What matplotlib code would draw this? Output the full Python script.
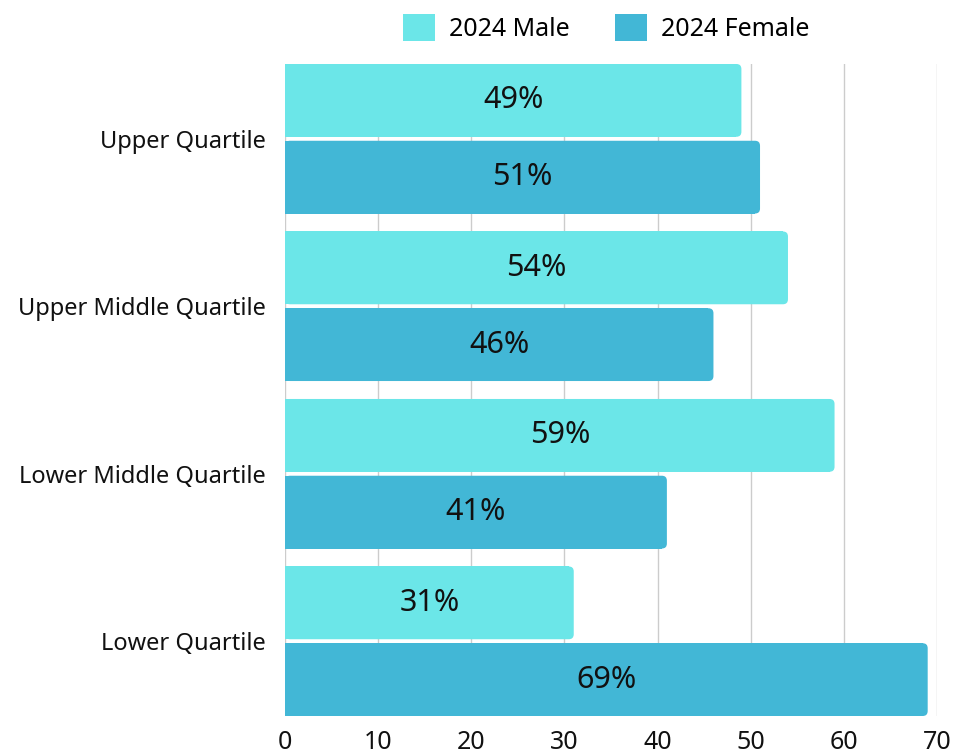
import matplotlib
matplotlib.use("Agg")
import matplotlib.pyplot as plt
from matplotlib.patches import FancyBboxPatch, Rectangle, Patch
import numpy as np

categories = ["Upper Quartile", "Upper Middle Quartile", "Lower Middle Quartile", "Lower Quartile"]
male = [49, 54, 59, 31]
female = [51, 46, 41, 69]
series_names = ["2024 Male", "2024 Female"]
xticks = [0, 10, 20, 30, 40, 50, 60, 70]

c_male = "#6be6e8"
c_female = "#42b7d6"

plt.rcParams['font.family'] = ['Noto Sans', 'DejaVu Sans']

W, H = 955, 753
fig = plt.figure(figsize=(W / 100, H / 100), dpi=100)
ax = fig.add_axes([285 / W, 1 - 716 / H, (937 - 285) / W, (716 - 64) / H])

n = len(categories)
centers = np.arange(n)[::-1].astype(float)
bh = 73 / 168
off = 77 / 2 / 168
ax.set_xlim(0, 70)
ax.set_ylim(-0.4464, n - 1 + 0.4464)

bars_m = ax.barh(centers + off, male, height=bh, color=c_male, zorder=2)
bars_f = ax.barh(centers - off, female, height=bh, color=c_female, zorder=2)

px_x = (937 - 285) / 70.0
px_y = 168.0
r_px = 5
for bars, col in ((bars_m, c_male), (bars_f, c_female)):
    for b in bars:
        x0, y0, w, h = b.get_x(), b.get_y(), b.get_width(), b.get_height()
        b.set_visible(False)
        rx = r_px / px_x
        fb = FancyBboxPatch((x0, y0), w, h, boxstyle=f"round,pad=0,rounding_size={rx}",
                            mutation_aspect=px_x / px_y, facecolor=col, edgecolor='none',
                            linewidth=0, zorder=2)
        ax.add_patch(fb)
        ax.add_patch(Rectangle((x0, y0), w - rx, h, facecolor=col, edgecolor='none',
                               linewidth=0, zorder=2))
        ax.text(x0 + w / 2, y0 + h / 2, f"{w:.0f}%", ha='center', va='center',
                fontsize=22, color='#111111', zorder=3)

ax.set_yticks(centers)
ax.set_yticklabels(categories, fontsize=17, color='#111111')
ax.set_xticks(xticks)
ax.set_xticklabels([str(t) for t in xticks], fontsize=18, color='#111111')
ax.tick_params(axis='y', length=0, pad=14)
ax.tick_params(axis='x', length=0, pad=10)
for s in ax.spines.values():
    s.set_visible(False)
ax.grid(axis='x', color='#cccccc', linewidth=1, zorder=0)
ax.set_axisbelow(True)

handles = [Patch(facecolor=c_male, edgecolor='none'), Patch(facecolor=c_female, edgecolor='none')]
fig.legend(handles, series_names, loc='center', bbox_to_anchor=(606 / W, 1 - 28 / H), ncol=2,
           frameon=False, fontsize=18, handlelength=1.3, handleheight=1.3, handletextpad=0.55,
           columnspacing=1.8)

fig.savefig("out.png", dpi=100)
